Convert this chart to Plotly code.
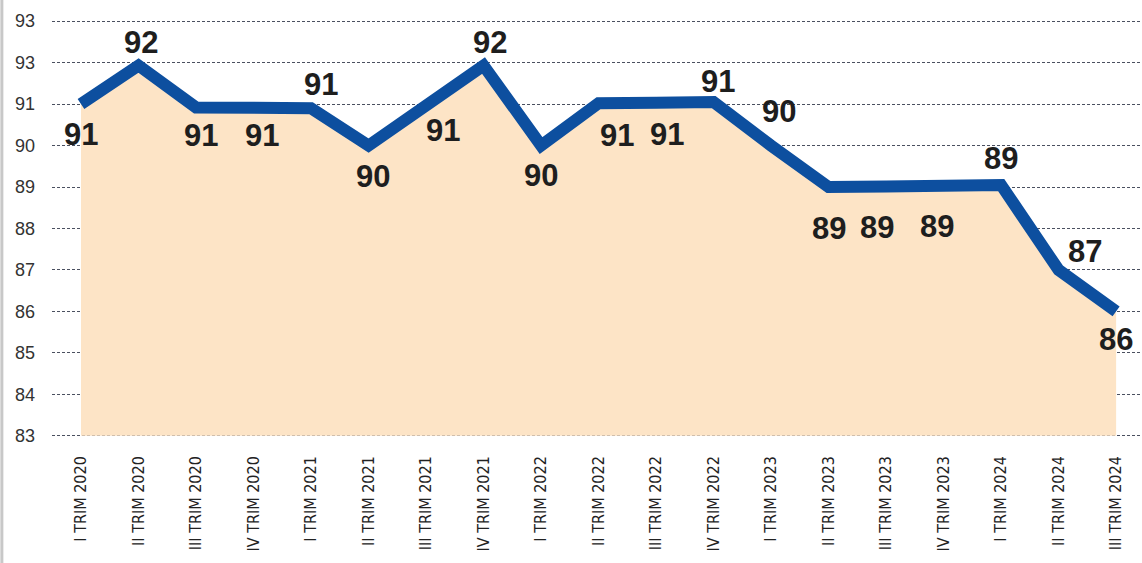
import plotly.graph_objects as go

categories = ["I TRIM 2020", "II TRIM 2020", "III TRIM 2020", "IV TRIM 2020",
              "I TRIM 2021", "II TRIM 2021", "III TRIM 2021", "IV TRIM 2021",
              "I TRIM 2022", "II TRIM 2022", "III TRIM 2022", "IV TRIM 2022",
              "I TRIM 2023", "II TRIM 2023", "III TRIM 2023", "IV TRIM 2023",
              "I TRIM 2024", "II TRIM 2024", "III TRIM 2024"]
values = [91.0, 91.93, 90.92, 90.92, 90.9, 90.0, 91.0, 91.93, 90.0, 91.02, 91.03,
          91.05, 90.0, 89.0, 89.01, 89.03, 89.05, 87.0, 86.0]
labels = ["91", "92", "91", "91", "91", "90", "91", "92", "90", "91", "91",
          "91", "90", "89", "89", "89", "89", "87", "86"]
ytick_vals = [93, 92, 91, 90, 89, 88, 87, 86, 85, 84, 83]
ytick_text = ["93", "93", "91", "90", "89", "88", "87", "86", "85", "84", "83"]
baseline = 83

# label offsets (pixels) relative to each point: style only
label_dx = [0, 3, 5, 8, 10, 4, 17, 6, 0, 18, 11, 4, 8, 0, -9, -7, 0, 26, 0]
label_dy = [30, -23, 28, 28, -24, 31, 26, -23, 30, 32, 32, -21, -34, 41, 41, 41, -26, -18, 28]

x = list(range(len(categories)))

fig = go.Figure()
fig.add_trace(go.Scatter(x=x, y=[baseline] * len(x), mode="lines",
                         line=dict(width=0, color="rgba(0,0,0,0)"),
                         hoverinfo="skip", showlegend=False))
fig.add_trace(go.Scatter(x=x, y=values, mode="lines", fill="tonexty",
                         fillcolor="#fde4c6",
                         line=dict(color="#0d4f9f", width=12),
                         showlegend=False))

for i, (v, t) in enumerate(zip(values, labels)):
    fig.add_annotation(x=i, y=v, text=t, showarrow=False,
                       xshift=label_dx[i], yshift=-label_dy[i],
                       font=dict(family="Liberation Sans, Arial, sans-serif", size=31,
                                 color="#1e1e1e", weight="bold"))

fig.add_shape(type="line", xref="paper", yref="paper", x0=-0.046, x1=-0.046,
              y0=-0.4, y1=1.1, line=dict(color="#c8c8c8", width=3))

fig.update_layout(
    width=1142, height=563,
    margin=dict(l=52, r=0, t=17, b=123, autoexpand=False),
    paper_bgcolor="white", plot_bgcolor="white",
    xaxis=dict(range=[-0.504, 18.45], tickvals=x, ticktext=categories,
               tickangle=-90, showgrid=False, zeroline=False, showline=False,
               ticklabelstandoff=12, automargin=False,
               tickfont=dict(family="DejaVu Sans Condensed, Liberation Sans, sans-serif",
                             size=16, color="#222222")),
    yaxis=dict(range=[82.9, 93.1], tickvals=ytick_vals, ticktext=ytick_text,
               showgrid=True, gridcolor="#4a5060", gridwidth=1, griddash="3px,2px",
               zeroline=False, showline=False, ticklabelstandoff=16, automargin=False,
               tickfont=dict(family="Liberation Sans, Arial, sans-serif", size=18,
                             color="#333333")),
)

fig.write_html("out.html")
